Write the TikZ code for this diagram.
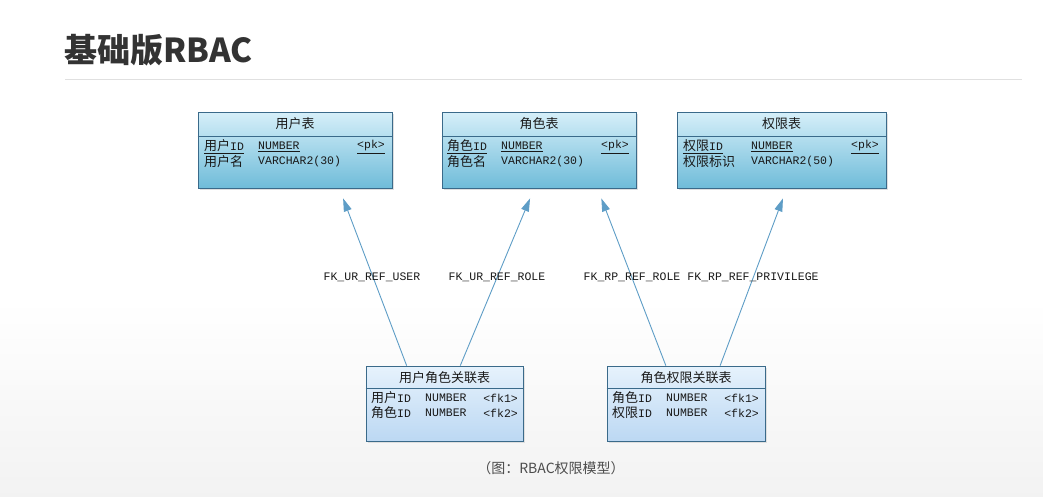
\documentclass[tikz,border=0pt]{standalone}
\usepackage{fontspec}
\setmainfont{Liberation Sans}
\newfontfamily\cjk{Noto Sans CJK SC}
\newfontfamily\mono{Liberation Mono}
\usetikzlibrary{arrows.meta,calc,shadows}
\definecolor{tblborder}{HTML}{3A6A8A}
\definecolor{tbltop}{HTML}{D6EFF9}
\definecolor{tblbot}{HTML}{6FBCD9}
\definecolor{asstop}{HTML}{E6F2FC}
\definecolor{assbot}{HTML}{BCD8F3}
\definecolor{linkc}{HTML}{5E9DC6}
\tikzset{
  tbl/.style={draw=tblborder, line width=0.8pt, rectangle, inner sep=0pt,
    top color=tbltop, bottom color=tblbot,
    drop shadow={opacity=0.25, shadow xshift=2pt, shadow yshift=-2pt}},
  asstbl/.style={draw=tblborder, line width=0.8pt, rectangle, inner sep=0pt,
    top color=asstop, bottom color=assbot,
    drop shadow={opacity=0.2, shadow xshift=2pt, shadow yshift=-2pt}},
  hdr/.style={font=\cjk\fontsize{13}{13}\selectfont, text=black!90, inner sep=0pt},
  cell/.style={anchor=west, inner sep=0pt, text=black!90, font=\mono\fontsize{11.5}{11.5}\selectfont},
  cellr/.style={anchor=east, inner sep=0pt, text=black!90, font=\mono\fontsize{11.5}{11.5}\selectfont},
  fk/.style={inner sep=0pt, text=black!90, font=\mono\fontsize{11.5}{11.5}\selectfont},
  link/.style={draw=linkc, line width=0.9pt, -{Triangle[length=13pt,width=8pt]}},
}
\newcommand{\cj}[1]{{\cjk\fontsize{13}{13}\selectfont #1}}
\newcommand{\ul}[1]{\underline{#1}}
\begin{document}
\begin{tikzpicture}[x=1pt,y=-1pt]
\useasboundingbox (0,0) rectangle (1043,496);
\fill[top color=white, bottom color=black!5] (0,300) rectangle (1043,496);

% title
\node[anchor=west, inner sep=0pt, font=\cjk\bfseries\fontsize{33}{33}\selectfont, text=black!80] (title) at (64,50) {基础版RBAC};
\draw[black!12, line width=0.8pt] (65,79) -- (1022,79);

% tables
\node[tbl, minimum width=194pt, minimum height=76pt] (user) at (295,150) {};
\node[tbl, minimum width=194pt, minimum height=76pt] (role) at (539,150) {};
\node[tbl, minimum width=209pt, minimum height=76pt] (priv) at (781.5,150) {};
\node[asstbl, minimum width=157pt, minimum height=75pt] (ur) at (444.5,403.5) {};
\node[asstbl, minimum width=158pt, minimum height=75pt] (rp) at (686,403.5) {};

% header lines
\draw[tblborder, line width=0.8pt] ($(user.north west)+(0,25)$) -- ($(user.north east)+(0,25)$);
\draw[tblborder, line width=0.8pt] ($(role.north west)+(0,25)$) -- ($(role.north east)+(0,25)$);
\draw[tblborder, line width=0.8pt] ($(priv.north west)+(0,25)$) -- ($(priv.north east)+(0,25)$);
\draw[tblborder, line width=0.8pt] ($(ur.north west)+(0,23)$) -- ($(ur.north east)+(0,23)$);
\draw[tblborder, line width=0.8pt] ($(rp.north west)+(0,23)$) -- ($(rp.north east)+(0,23)$);

% headers
\node[hdr] (userh) at (295,124) {用户表};
\node[hdr] (roleh) at (539,124) {角色表};
\node[hdr] (privh) at (781.5,124) {权限表};
\node[hdr] (urh) at (444.5,377.5) {用户角色关联表};
\node[hdr] (rph) at (686,377.5) {角色权限关联表};

% user rows
\node[cell] (u1a) at (204,147) {\ul{\cj{用户}ID}};
\node[cell] (u1b) at (258,147) {\ul{NUMBER}};
\node[cellr] (u1c) at (385,147) {\ul{<pk>}};
\node[cell] (u2a) at (204,162) {\cj{用户名}};
\node[cell] (u2b) at (258,162) {VARCHAR2(30)};
% role rows
\node[cell] (r1a) at (447,147) {\ul{\cj{角色}ID}};
\node[cell] (r1b) at (501,147) {\ul{NUMBER}};
\node[cellr] (r1c) at (629,147) {\ul{<pk>}};
\node[cell] (r2a) at (447,162) {\cj{角色名}};
\node[cell] (r2b) at (501,162) {VARCHAR2(30)};
% privilege rows
\node[cell] (p1a) at (683,147) {\ul{\cj{权限}ID}};
\node[cell] (p1b) at (751,147) {\ul{NUMBER}};
\node[cellr] (p1c) at (879,147) {\ul{<pk>}};
\node[cell] (p2a) at (683,162) {\cj{权限标识}};
\node[cell] (p2b) at (751,162) {VARCHAR2(50)};
% user-role rows
\node[cell] (ur1a) at (371,398) {\cj{用户}ID};
\node[cell] (ur1b) at (425,398) {NUMBER};
\node[cellr] (ur1c) at (518,398) {<fk1>};
\node[cell] (ur2a) at (371,413) {\cj{角色}ID};
\node[cell] (ur2b) at (425,413) {NUMBER};
\node[cellr] (ur2c) at (518,413) {<fk2>};
% role-priv rows
\node[cell] (rp1a) at (612,398) {\cj{角色}ID};
\node[cell] (rp1b) at (666,398) {NUMBER};
\node[cellr] (rp1c) at (759,398) {<fk1>};
\node[cell] (rp2a) at (612,413) {\cj{权限}ID};
\node[cell] (rp2b) at (666,413) {NUMBER};
\node[cellr] (rp2c) at (759,413) {<fk2>};

% connectors
\draw[link] ($(ur.north west)!0.26!(ur.north east)$) -- ($(user.south west)!0.747!(user.south east)+(0,10)$);
\draw[link] ($(ur.north west)!0.60!(ur.north east)$) -- ($(role.south west)!0.454!(role.south east)+(0,10)$);
\draw[link] ($(rp.north west)!0.373!(rp.north east)$) -- ($(role.south west)!0.82!(role.south east)+(0,10)$);
\draw[link] ($(rp.north west)!0.715!(rp.north east)$) -- ($(priv.south west)!0.507!(priv.south east)+(0,10)$);

% FK labels
\node[fk] (l1) at (372,277) {FK\_UR\_REF\_USER};
\node[fk] (l2) at (497,277) {FK\_UR\_REF\_ROLE};
\node[fk] (l3) at (632,277) {FK\_RP\_REF\_ROLE};
\node[fk] (l4) at (753,277) {FK\_RP\_REF\_PRIVILEGE};

% caption
\node[inner sep=0pt, text=black!70, font=\cjk\fontsize{14}{14}\selectfont] (cap) at (551,468) {（图：RBAC权限模型）};
\end{tikzpicture}
\end{document}
